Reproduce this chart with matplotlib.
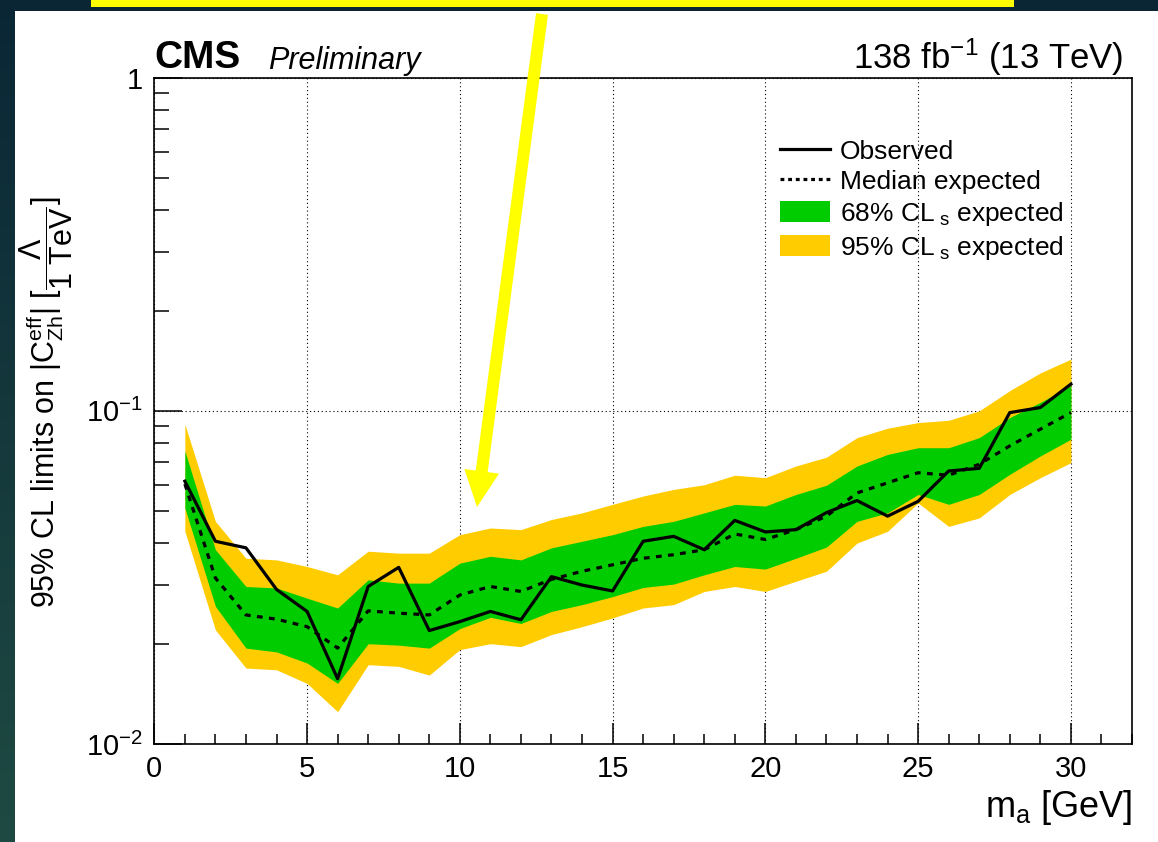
import numpy as np
import matplotlib
matplotlib.use("Agg")
import matplotlib.pyplot as plt
from matplotlib.lines import Line2D
from matplotlib.patches import Patch, Rectangle, Polygon
from matplotlib.ticker import MultipleLocator, FixedLocator, FixedFormatter

plt.rcParams['font.family'] = ['Liberation Sans', 'DejaVu Sans']
plt.rcParams['mathtext.fontset'] = 'custom'
plt.rcParams['mathtext.rm'] = 'Liberation Sans'
plt.rcParams['mathtext.it'] = 'Liberation Sans:italic'
plt.rcParams['mathtext.bf'] = 'Liberation Sans:bold'

# mass points [GeV]
masses = list(range(1, 31))

observed = [0.0615, 0.0406, 0.0388, 0.0291, 0.0250, 0.0157, 0.0297, 0.0339, 0.0219, 0.0233,
            0.0250, 0.0236, 0.0318, 0.0300, 0.0288, 0.0406, 0.0420, 0.0383, 0.0469, 0.0433,
            0.0440, 0.0495, 0.0538, 0.0483, 0.0535, 0.0660, 0.0672, 0.0988, 0.1023, 0.1203]

expected = [0.0603, 0.0315, 0.0244, 0.0237, 0.0225, 0.0194, 0.0251, 0.0247, 0.0244, 0.0280,
            0.0297, 0.0287, 0.0312, 0.0330, 0.0345, 0.0361, 0.0370, 0.0383, 0.0427, 0.0411,
            0.0440, 0.0483, 0.0567, 0.0608, 0.0652, 0.0641, 0.0691, 0.0785, 0.0881, 0.0988]

band68_hi = [0.0758, 0.0383, 0.0297, 0.0294, 0.0274, 0.0256, 0.0311, 0.0304, 0.0304, 0.0349,
             0.0366, 0.0357, 0.0388, 0.0406, 0.0425, 0.0450, 0.0466, 0.0494, 0.0524, 0.0518,
             0.0561, 0.0598, 0.0683, 0.0740, 0.0775, 0.0775, 0.0831, 0.0955, 0.1060, 0.1190]

band68_lo = [0.0511, 0.0259, 0.0194, 0.0189, 0.0175, 0.0152, 0.0200, 0.0198, 0.0194, 0.0222,
             0.0240, 0.0230, 0.0250, 0.0262, 0.0277, 0.0295, 0.0302, 0.0322, 0.0341, 0.0335,
             0.0361, 0.0390, 0.0466, 0.0494, 0.0561, 0.0524, 0.0561, 0.0645, 0.0732, 0.0822]

band95_hi = [0.0912, 0.0466, 0.0361, 0.0357, 0.0341, 0.0322, 0.0379, 0.0374, 0.0374, 0.0425,
             0.0445, 0.0440, 0.0472, 0.0494, 0.0524, 0.0555, 0.0581, 0.0600, 0.0641, 0.0630,
             0.0683, 0.0726, 0.0831, 0.0887, 0.0922, 0.0937, 0.1000, 0.1150, 0.1300, 0.1430]

band95_lo = [0.0435, 0.0220, 0.0169, 0.0167, 0.0152, 0.0125, 0.0173, 0.0171, 0.0161, 0.0192,
             0.0200, 0.0196, 0.0213, 0.0225, 0.0239, 0.0256, 0.0262, 0.0287, 0.0297, 0.0287,
             0.0308, 0.0330, 0.0401, 0.0435, 0.0529, 0.0450, 0.0477, 0.0561, 0.0630, 0.0699]

W, H = 1158, 842


def px(x, y):
    # pixel position (from top-left) -> figure fraction
    return (x / W, 1 - y / H)


fig = plt.figure(figsize=(W / 100, H / 100), dpi=100)

# slide background
bg = fig.add_axes([0, 0, 1, 1], zorder=-10)
grad = np.linspace(0, 1, 256)[:, None]
c_top = np.array([0.04, 0.15, 0.21])
c_bot = np.array([0.12, 0.29, 0.26])
img = c_top[None, None, :] * (1 - grad[..., None]) + c_bot[None, None, :] * grad[..., None]
img = np.repeat(img, 4, axis=1)
bg.imshow(img, aspect='auto', extent=[0, 1, 0, 1], origin='upper')
bg.set_xlim(0, 1)
bg.set_ylim(0, 1)
bg.axis('off')

# white slide panel and the yellow title box
x0, y0 = px(15, 842)
fig.add_artist(Rectangle((x0, y0), 1 - x0, (842 - 11) / H, transform=fig.transFigure,
                         facecolor='white', edgecolor='none', zorder=-5))
x0, y0 = px(91, 7)
fig.add_artist(Rectangle((x0, y0), (1014 - 91) / W, 7 / H, transform=fig.transFigure,
                         facecolor='#ffff00', edgecolor='none', zorder=-5))

# plot
ax = fig.add_axes([154.3 / W, 1 - 744 / H, (1132 - 154.3) / W, (744 - 77.7) / H])
ax.fill_between(masses, band95_lo, band95_hi, color='#ffcc00', lw=0, zorder=1)
ax.fill_between(masses, band68_lo, band68_hi, color='#00cc00', lw=0, zorder=2)
ax.plot(masses, expected, color='black', lw=2.3, ls=(0, (1.8, 2.0)), zorder=4)
ax.plot(masses, observed, color='black', lw=2.3, zorder=5)

ax.set_yscale('log')
ax.set_xlim(0, 32)
ax.set_ylim(0.01, 1)

ax.xaxis.set_major_locator(MultipleLocator(5))
ax.xaxis.set_minor_locator(MultipleLocator(1))
ax.yaxis.set_major_locator(FixedLocator([0.01, 0.1, 1]))
ax.yaxis.set_major_formatter(FixedFormatter(['$10^{-2}$', '$10^{-1}$', '1']))
minor_y = [m * 10.0 ** e for e in (-2, -1) for m in range(2, 10)]
ax.yaxis.set_minor_locator(FixedLocator(minor_y))
ax.yaxis.set_minor_formatter(FixedFormatter([''] * len(minor_y)))

ax.tick_params(axis='both', which='both', direction='in', top=False, right=False,
               width=1.1, labelsize=21)
ax.tick_params(axis='x', which='major', length=15, pad=8)
ax.tick_params(axis='x', which='minor', length=7.5)
ax.tick_params(axis='y', which='major', length=20, pad=8)
ax.tick_params(axis='y', which='minor', length=11)
for s in ax.spines.values():
    s.set_linewidth(1.2)

ax.grid(True, which='major', color='black', lw=0.8, ls=(0, (1, 2.5)), zorder=0)
ax.set_axisbelow(True)

# axis titles
narrow = ['Liberation Sans Narrow', 'Liberation Sans', 'DejaVu Sans']
fig.text(*px(1132, 817), r'm$_{\rm a}$ [GeV]', ha='right', va='baseline', fontsize=26)
fig.text(*px(46, 402),
         r'95% CL limits on $|\mathrm{C}^{\rm eff}_{\rm Zh}|\ [\dfrac{\Lambda}{\rm 1\ TeV}]$',
         rotation=90, ha='center', va='center', fontsize=22, family=narrow)

# header
fig.text(*px(154, 68), 'CMS', fontsize=28, fontweight='bold', ha='left', va='baseline')
fig.text(*px(268, 69), 'Preliminary', fontsize=22, style='italic', ha='left', va='baseline')
fig.text(*px(1123, 69), r'138 fb$^{-1}$ (13 TeV)', fontsize=25, ha='right', va='baseline')

# legend
handles = [Line2D([], [], color='black', lw=2.3),
           Line2D([], [], color='black', lw=2.3, ls=(0, (1.2, 1.2))),
           Patch(facecolor='#00cc00', edgecolor='none'),
           Patch(facecolor='#ffcc00', edgecolor='none')]
labels = ['Observed', 'Median expected', r'68% CL$_{\ \rm s}$ expected', r'95% CL$_{\ \rm s}$ expected']
leg = ax.legend(handles, labels, loc='upper left', bbox_to_anchor=px(780, 139),
                bbox_transform=fig.transFigure, frameon=False, fontsize=19,
                handlelength=1.9, handleheight=0.85, handletextpad=0.38,
                labelspacing=0.22, borderpad=0, borderaxespad=0)

# yellow arrow pointing at the expected limit
sx, sy = 542, 14
tx, ty = 477, 507
d = np.array([tx - sx, ty - sy], dtype=float)
d /= np.hypot(*d)
n = np.array([-d[1], d[0]])
base = np.array([tx, ty]) - d * 36
pts = [np.array([sx, sy]) + n * 6, base + n * 6, base + n * 17.5, np.array([tx, ty]),
       base - n * 17.5, base - n * 6, np.array([sx, sy]) - n * 6]
fig.add_artist(Polygon([px(*p) for p in pts], closed=True, transform=fig.transFigure,
                       facecolor='#ffff00', edgecolor='none', zorder=10))

fig.savefig('out.png', dpi=100)
